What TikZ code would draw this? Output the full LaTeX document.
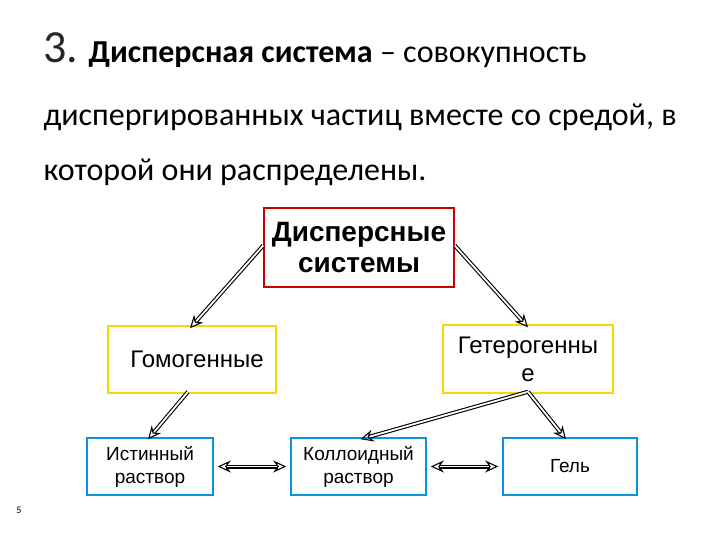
\documentclass[tikz,border=0pt]{standalone}
\usepackage{fontspec}
\setmainfont{Carlito}
\newfontfamily\arialf{Liberation Sans}
\usetikzlibrary{arrows.meta}
\begin{document}
\begin{tikzpicture}[x=1pt,y=-1pt,
 >={Stealth[length=13pt,width=12pt,open]},
 box/.style={draw=#1,line width=1.5pt,fill=white,align=center,font=\arialf\fontsize{24}{28}\selectfont,inner sep=0pt},
 small/.style={font=\arialf\fontsize{19}{23}\selectfont},
 conn/.style={draw=black,double=white,double distance=1.8pt,line width=1.1pt,->}]
\useasboundingbox (0,0) rectangle (720,540);
\node[anchor=base west,font=\fontsize{46}{50}\selectfont,text=black!85] (t1) at (40,63) {3.};
\node[anchor=base west,font=\fontsize{32}{36}\selectfont] (t2) at (85,63) {\textbf{Дисперсная система} – совокупность};
\node[anchor=west,font=\fontsize{32}{36}\selectfont] (t3) at (40,117) {диспергированных частиц вместе со средой, в};
\node[anchor=west,font=\fontsize{32}{36}\selectfont] (t4) at (40,172) {которой они распределены.};
\node[box=red!80!black,minimum width=190,minimum height=79,font=\arialf\bfseries\fontsize{28}{31}\selectfont] (d) at (359,247.5) {Дисперсные\\системы};
\node[box=yellow!75!orange,minimum width=168,minimum height=67] (g) at (192,359.5) {\hspace{10pt}Гомогенные};
\node[box=yellow!75!orange,minimum width=170,minimum height=68] (h) at (528,359) {Гетерогенны\\е};
\node[box=cyan!80!blue,minimum width=126,minimum height=57,small] (i) at (150,466.5) {Истинный\\раствор};
\node[box=cyan!80!blue,minimum width=135,minimum height=57,small] (k) at (358.5,466.5) {Коллоидный\\раствор};
\node[box=cyan!80!blue,minimum width=134,minimum height=57,small] (e) at (570,466.5) {Гель};
\node[font=\fontsize{10}{11}\selectfont] (n5) at (19,510) {5};
\draw[conn] ([yshift=2pt]d.west) -- ([xshift=-2pt,yshift=-3pt]g.north);
\draw[conn] ([yshift=2pt]d.east) -- ([yshift=-3pt]h.north);
\draw[conn] ([xshift=-4pt,yshift=2pt]g.south) -- ([xshift=-2pt,yshift=-2pt]i.north);
\draw[conn] ([yshift=2pt]h.south) -- ([xshift=2pt,yshift=-2pt]k.north);
\draw[conn] ([yshift=2pt]h.south) -- ([xshift=-4pt,yshift=-2pt]e.north);
\draw[conn,<->] ([xshift=4pt]i.east) -- ([xshift=-4pt]k.west);
\draw[conn,<->] ([xshift=4pt]k.east) -- ([xshift=-4pt]e.west);
\end{tikzpicture}
\end{document}
